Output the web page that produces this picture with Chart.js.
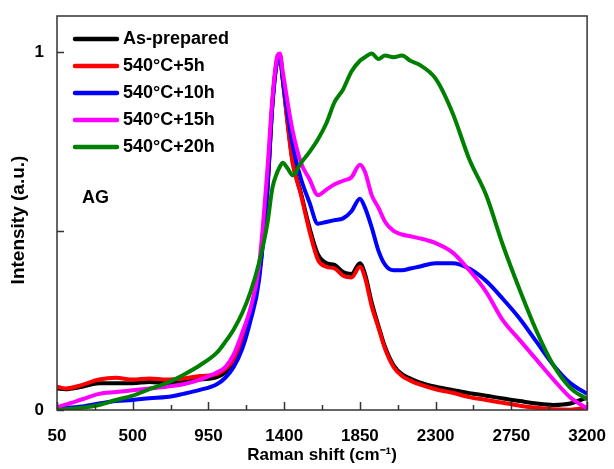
<!DOCTYPE html>
<html lang="en">
<head>
    <meta charset="UTF-8">
    <title>Raman spectra</title>
    <style>
        html, body { margin: 0; padding: 0; background: #fff; }
        #wrap { width: 614px; height: 469px; }
    </style>
</head>
<body>
    <div id="wrap"><canvas id="ramanChart" width="614" height="469"></canvas></div>

    <script src="https://cdn.jsdelivr.net/npm/chart.js"></script>
    <script>
        // Raman shift (cm-1) sample positions, shared by every series
        const ramanShift = [50, 100, 200, 300, 400, 500, 600, 700, 800, 900, 1000, 1050, 1100, 1150, 1200, 1250, 1300, 1330, 1360, 1375, 1390, 1420, 1450, 1500, 1550, 1600, 1650, 1700, 1750, 1800, 1850, 1880, 1920, 1960, 2000, 2050, 2100, 2150, 2200, 2300, 2400, 2500, 2600, 2700, 2800, 2900, 3000, 3100, 3200];

        const asPrepared = [0.06, 0.058, 0.065, 0.075, 0.075, 0.075, 0.078, 0.075, 0.078, 0.085, 0.092, 0.105, 0.13, 0.19, 0.265, 0.375, 0.61, 0.855, 0.98, 0.99, 0.93, 0.805, 0.695, 0.605, 0.51, 0.435, 0.41, 0.405, 0.385, 0.38, 0.41, 0.38, 0.30, 0.235, 0.175, 0.125, 0.10, 0.088, 0.078, 0.065, 0.056, 0.047, 0.04, 0.032, 0.025, 0.018, 0.014, 0.018, 0.035];
        const h5 = [0.065, 0.06, 0.07, 0.085, 0.09, 0.085, 0.088, 0.085, 0.088, 0.095, 0.10, 0.115, 0.14, 0.195, 0.27, 0.38, 0.62, 0.86, 0.98, 0.99, 0.93, 0.80, 0.69, 0.60, 0.50, 0.42, 0.40, 0.395, 0.375, 0.37, 0.40, 0.37, 0.29, 0.23, 0.17, 0.12, 0.095, 0.082, 0.072, 0.058, 0.048, 0.036, 0.028, 0.02, 0.012, 0.006, 0.002, 0.001, 0.008];
        const h10 = [0.005, 0.006, 0.01, 0.018, 0.025, 0.028, 0.033, 0.036, 0.045, 0.056, 0.072, 0.09, 0.12, 0.17, 0.25, 0.36, 0.62, 0.85, 0.98, 0.99, 0.93, 0.83, 0.74, 0.645, 0.58, 0.52, 0.525, 0.53, 0.535, 0.555, 0.59, 0.565, 0.51, 0.445, 0.405, 0.39, 0.39, 0.395, 0.40, 0.41, 0.41, 0.395, 0.36, 0.31, 0.255, 0.19, 0.125, 0.075, 0.045];
        const h15 = [0.008, 0.015, 0.03, 0.045, 0.05, 0.055, 0.06, 0.065, 0.072, 0.085, 0.105, 0.12, 0.155, 0.215, 0.285, 0.40, 0.67, 0.87, 0.99, 0.995, 0.95, 0.86, 0.78, 0.69, 0.645, 0.60, 0.615, 0.63, 0.64, 0.65, 0.685, 0.665, 0.60, 0.565, 0.525, 0.50, 0.49, 0.485, 0.48, 0.466, 0.44, 0.39, 0.33, 0.25, 0.195, 0.14, 0.085, 0.035, 0.005];
        const h20 = [0.0, 0.002, 0.006, 0.014, 0.028, 0.04, 0.058, 0.075, 0.098, 0.125, 0.16, 0.19, 0.225, 0.27, 0.33, 0.41, 0.52, 0.62, 0.665, 0.68, 0.69, 0.675, 0.655, 0.69, 0.72, 0.755, 0.80, 0.86, 0.895, 0.945, 0.975, 0.985, 0.995, 0.98, 0.99, 0.985, 0.99, 0.975, 0.965, 0.925, 0.83, 0.70, 0.60, 0.46, 0.335, 0.22, 0.125, 0.062, 0.03];

        const seriesNames = ['As-prepared', '540°C+5h', '540°C+10h', '540°C+15h', '540°C+20h'];
        const seriesColors = ['#000000', '#ff0000', '#0000ff', '#ff00ff', '#008000'];
        const seriesValues = [asPrepared, h5, h10, h15, h20];

        const xTicks = [50, 500, 950, 1400, 1850, 2300, 2750, 3200];
        const yTicks = [0, 0.5, 1];
        const yLabels = ['0', '', '1'];

        const font = 'Liberation Sans, Arial, sans-serif';

        const datasets = seriesValues.map((vals, i) => ({
            label: seriesNames[i],
            data: vals.map((v, k) => ({ x: ramanShift[k], y: v })),
            borderColor: seriesColors[i],
            borderWidth: 4,
            pointRadius: 0,
            fill: false,
            cubicInterpolationMode: 'monotone',
            order: 5 - i
        }));

        // frame, inward ticks, legend and annotation
        const decor = {
            id: 'decor',
            afterDraw(chart) {
                const ctx = chart.ctx;
                const a = chart.chartArea;
                const xs = chart.scales.x, ys = chart.scales.y;
                ctx.save();
                ctx.strokeStyle = '#333';
                ctx.lineWidth = 1.5;
                ctx.strokeRect(a.left, a.top, a.right - a.left, a.bottom - a.top);

                ctx.beginPath();
                for (let v = 50; v <= 3200; v += 225) {
                    const px = Math.round(xs.getPixelForValue(v)) + 0.5;
                    const major = xTicks.includes(v);
                    ctx.moveTo(px, a.bottom);
                    ctx.lineTo(px, a.bottom - (major ? 8 : 5));
                }
                yTicks.forEach(v => {
                    const py = Math.round(ys.getPixelForValue(v)) + 0.5;
                    ctx.moveTo(a.left, py);
                    ctx.lineTo(a.left + 7, py);
                });
                ctx.stroke();

                // legend
                ctx.font = 'bold 18px ' + font;
                ctx.textBaseline = 'middle';
                ctx.fillStyle = '#000';
                const rowY = [39, 66, 93, 120, 147];
                seriesNames.forEach((name, i) => {
                    ctx.strokeStyle = seriesColors[i];
                    ctx.lineWidth = 4.5;
                    ctx.lineCap = 'round';
                    ctx.beginPath();
                    ctx.moveTo(75, rowY[i]);
                    ctx.lineTo(117, rowY[i]);
                    ctx.stroke();
                    ctx.fillText(name, 123, rowY[i]);
                });

                ctx.fillText('AG', 82, 198);

                // axis titles
                ctx.textAlign = 'center';
                ctx.font = 'bold 17px ' + font;
                ctx.fillText('Raman shift (cm\u207B\u00B9)', (a.left + a.right) / 2, 455);
                ctx.font = 'bold 19px ' + font;
                ctx.translate(19, 220);
                ctx.rotate(-Math.PI / 2);
                ctx.fillText('Intensity (a.u.)', 0, 0);
                ctx.restore();
            }
        };

        new Chart(document.getElementById('ramanChart'), {
            type: 'line',
            data: { datasets: datasets },
            plugins: [decor],
            options: {
                responsive: false,
                animation: false,
                layout: { padding: { top: 16, right: 23, left: 0, bottom: 0 } },
                plugins: { legend: { display: false }, tooltip: { enabled: false } },
                scales: {
                    x: {
                        type: 'linear',
                        min: 50,
                        max: 3200,
                        afterBuildTicks: s => { s.ticks = xTicks.map(v => ({ value: v })); },
                        afterFit: s => { s.height = 59; },
                        grid: { display: false },
                        border: { display: false },
                        ticks: {
                            padding: 8,
                            color: '#000',
                            font: { family: font, size: 17, weight: 'bold' },
                            callback: v => String(v)
                        }
                    },
                    y: {
                        min: 0,
                        max: 1.1,
                        afterBuildTicks: s => { s.ticks = yTicks.map(v => ({ value: v })); },
                        afterFit: s => { s.width = 57; },
                        grid: { display: false },
                        border: { display: false },
                        ticks: {
                            padding: 5,
                            color: '#000',
                            font: { family: font, size: 17, weight: 'bold' },
                            callback: (v, i) => yLabels[i]
                        }
                    }
                }
            }
        });
    </script>
</body>
</html>
